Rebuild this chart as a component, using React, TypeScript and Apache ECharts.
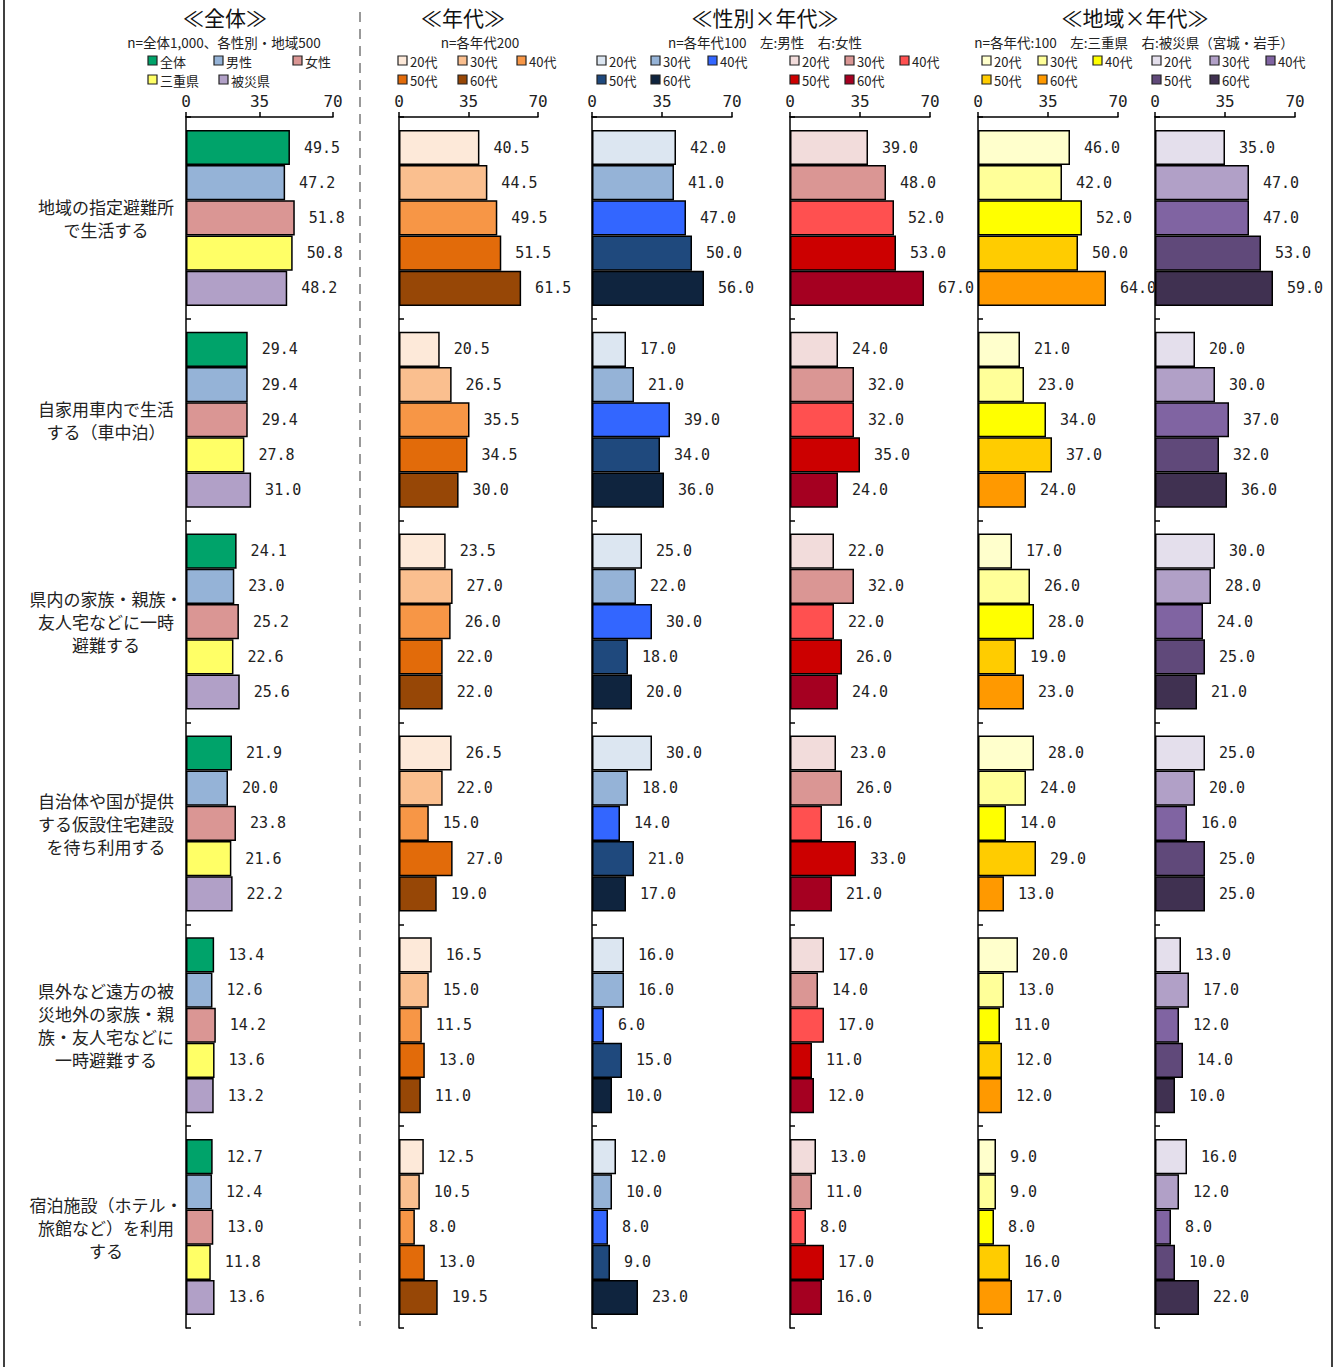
import React, { useEffect, useRef } from "react";
import * as echarts from "echarts";

// Answer options (category axis, top to bottom)
const categories = [
  "地域の指定避難所\nで生活する",
  "自家用車内で生活\nする（車中泊）",
  "県内の家族・親族・\n友人宅などに一時\n避難する",
  "自治体や国が提供\nする仮設住宅建設\nを待ち利用する",
  "県外など遠方の被\n災地外の家族・親\n族・友人宅などに\n一時避難する",
  "宿泊施設（ホテル・\n旅館など）を利用\nする",
];

const xTicks = { min: 0, max: 70, interval: 35 };

// ≪全体≫
const overallNames = ["全体", "男性", "女性", "三重県", "被災県"];
const overallAll = [49.5, 29.4, 24.1, 21.9, 13.4, 12.7];
const overallMale = [47.2, 29.4, 23.0, 20.0, 12.6, 12.4];
const overallFemale = [51.8, 29.4, 25.2, 23.8, 14.2, 13.0];
const overallMie = [50.8, 27.8, 22.6, 21.6, 13.6, 11.8];
const overallDisaster = [48.2, 31.0, 25.6, 22.2, 13.2, 13.6];

const ageNames = ["20代", "30代", "40代", "50代", "60代"];

// ≪年代≫ n=各年代200
const age20 = [40.5, 20.5, 23.5, 26.5, 16.5, 12.5];
const age30 = [44.5, 26.5, 27.0, 22.0, 15.0, 10.5];
const age40 = [49.5, 35.5, 26.0, 15.0, 11.5, 8.0];
const age50 = [51.5, 34.5, 22.0, 27.0, 13.0, 13.0];
const age60 = [61.5, 30.0, 22.0, 19.0, 11.0, 19.5];

// ≪性別×年代≫ 男性
const male20 = [42.0, 17.0, 25.0, 30.0, 16.0, 12.0];
const male30 = [41.0, 21.0, 22.0, 18.0, 16.0, 10.0];
const male40 = [47.0, 39.0, 30.0, 14.0, 6.0, 8.0];
const male50 = [50.0, 34.0, 18.0, 21.0, 15.0, 9.0];
const male60 = [56.0, 36.0, 20.0, 17.0, 10.0, 23.0];

// ≪性別×年代≫ 女性
const female20 = [39.0, 24.0, 22.0, 23.0, 17.0, 13.0];
const female30 = [48.0, 32.0, 32.0, 26.0, 14.0, 11.0];
const female40 = [52.0, 32.0, 22.0, 16.0, 17.0, 8.0];
const female50 = [53.0, 35.0, 26.0, 33.0, 11.0, 17.0];
const female60 = [67.0, 24.0, 24.0, 21.0, 12.0, 16.0];

// ≪地域×年代≫ 三重県
const mie20 = [46.0, 21.0, 17.0, 28.0, 20.0, 9.0];
const mie30 = [42.0, 23.0, 26.0, 24.0, 13.0, 9.0];
const mie40 = [52.0, 34.0, 28.0, 14.0, 11.0, 8.0];
const mie50 = [50.0, 37.0, 19.0, 29.0, 12.0, 16.0];
const mie60 = [64.0, 24.0, 23.0, 13.0, 12.0, 17.0];

// ≪地域×年代≫ 被災県（宮城・岩手）
const hit20 = [35.0, 20.0, 30.0, 25.0, 13.0, 16.0];
const hit30 = [47.0, 30.0, 28.0, 20.0, 17.0, 12.0];
const hit40 = [47.0, 37.0, 24.0, 16.0, 12.0, 8.0];
const hit50 = [53.0, 32.0, 25.0, 25.0, 14.0, 10.0];
const hit60 = [59.0, 36.0, 21.0, 25.0, 10.0, 22.0];

const overallColors = ["#00A36A", "#95B3D7", "#DA9694", "#FFFF66", "#B1A0C7"];
const ageColors = ["#FDE9D9", "#FABF8F", "#F79646", "#E26B0A", "#974706"];
const maleColors = ["#DCE6F1", "#95B3D7", "#3366FF", "#1F497D", "#0F243E"];
const femaleColors = ["#F2DCDB", "#DA9694", "#FF5050", "#CC0000", "#A50021"];
const mieColors = ["#FFFFCC", "#FFFF99", "#FFFF00", "#FFCC00", "#FF9900"];
const hitColors = ["#E4DFEC", "#B1A0C7", "#8064A2", "#60497A", "#403151"];

const JP = '"Noto Sans CJK JP", "Noto Sans", sans-serif';
const MONO = '"DejaVu Sans Mono", "Liberation Mono", monospace';

const GRID_TOP = 117;
const GRID_HEIGHT = 1211;

const SUB_Y = 42;
const ROW1_Y = 61;
const ROW2_Y = 80;

const panels = [
  {
    names: overallNames,
    colors: overallColors,
    values: [overallAll, overallMale, overallFemale, overallMie, overallDisaster],
    left: 186,
    width: 147,
    legend: [[148, ROW1_Y], [214, ROW1_Y], [293, ROW1_Y], [148, ROW2_Y], [219, ROW2_Y]],
  },
  {
    names: ageNames,
    colors: ageColors,
    values: [age20, age30, age40, age50, age60],
    left: 399,
    width: 139,
    legend: [[398, ROW1_Y], [458, ROW1_Y], [517, ROW1_Y], [398, ROW2_Y], [458, ROW2_Y]],
  },
  {
    names: ageNames,
    colors: maleColors,
    values: [male20, male30, male40, male50, male60],
    left: 592,
    width: 140,
    legend: [[597, ROW1_Y], [651, ROW1_Y], [708, ROW1_Y], [597, ROW2_Y], [651, ROW2_Y]],
  },
  {
    names: ageNames,
    colors: femaleColors,
    values: [female20, female30, female40, female50, female60],
    left: 790,
    width: 140,
    legend: [[790, ROW1_Y], [845, ROW1_Y], [900, ROW1_Y], [790, ROW2_Y], [845, ROW2_Y]],
  },
  {
    names: ageNames,
    colors: mieColors,
    values: [mie20, mie30, mie40, mie50, mie60],
    left: 978,
    width: 140,
    legend: [[982, ROW1_Y], [1038, ROW1_Y], [1093, ROW1_Y], [982, ROW2_Y], [1038, ROW2_Y]],
  },
  {
    names: ageNames,
    colors: hitColors,
    values: [hit20, hit30, hit40, hit50, hit60],
    left: 1155,
    width: 140,
    legend: [[1152, ROW1_Y], [1210, ROW1_Y], [1266, ROW1_Y], [1152, ROW2_Y], [1210, ROW2_Y]],
  },
];

const headings = [
  { text: "≪全体≫", x: 225 },
  { text: "≪年代≫", x: 463 },
  { text: "≪性別×年代≫", x: 765 },
  { text: "≪地域×年代≫", x: 1135 },
];

const subHeadings = [
  { text: "n=全体1,000、各性別・地域500", x: 224 },
  { text: "n=各年代200", x: 480 },
  { text: "n=各年代100　左:男性　右:女性", x: 765 },
  { text: "n=各年代:100　左:三重県　右:被災県（宮城・岩手）", x: 1134 },
];

function buildOption() {
  const grid = panels.map((p) => ({
    left: p.left,
    width: p.width,
    top: GRID_TOP,
    height: GRID_HEIGHT,
    containLabel: false,
  }));

  const xAxis = panels.map((_, i) => ({
    gridIndex: i,
    type: "value",
    position: "top",
    min: xTicks.min,
    max: xTicks.max,
    interval: xTicks.interval,
    axisLine: { show: true, lineStyle: { color: "#000", width: 1.5 } },
    axisTick: { show: true, length: 5, lineStyle: { color: "#000", width: 1.5 } },
    axisLabel: { fontSize: 16, margin: 8, color: "#222", fontFamily: MONO },
    splitLine: { show: false },
  }));

  const yAxis = panels.map((_, i) => ({
    gridIndex: i,
    type: "category",
    data: categories,
    inverse: true,
    axisLine: { show: true, onZero: false, lineStyle: { color: "#000", width: 1.5 } },
    axisTick: {
      show: true,
      inside: true,
      length: 5,
      interval: 0,
      alignWithLabel: false,
      lineStyle: { color: "#000", width: 1.5 },
    },
    axisLabel:
      i === 0
        ? {
            show: true,
            interval: 0,
            align: "center",
            margin: 80,
            fontSize: 17,
            lineHeight: 23,
            color: "#222",
            fontFamily: JP,
          }
        : { show: false },
    splitLine: { show: false },
  }));

  const series: any[] = [];
  panels.forEach((p, i) => {
    p.values.forEach((vals, k) => {
      series.push({
        type: "bar",
        name: p.names[k],
        xAxisIndex: i,
        yAxisIndex: i,
        data: vals,
        barGap: "0%",
        barCategoryGap: "12.8%",
        itemStyle: { color: p.colors[k], borderColor: "#000", borderWidth: 1.5 },
        label: {
          show: true,
          position: "right",
          distance: 14,
          formatter: (d: any) => Number(d.value).toFixed(1),
          fontSize: 15,
          fontFamily: MONO,
          color: "#222",
        },
      });
    });
  });

  const graphic: any[] = [];
  // frame lines and the dashed divider after the overall panel
  graphic.push({
    type: "line",
    shape: { x1: 4, y1: 0, x2: 4, y2: 1367 },
    style: { stroke: "#000", lineWidth: 1.5 },
  });
  graphic.push({
    type: "line",
    shape: { x1: 1332, y1: 0, x2: 1332, y2: 1367 },
    style: { stroke: "#000", lineWidth: 1.5 },
  });
  graphic.push({
    type: "line",
    shape: { x1: 360, y1: 12, x2: 360, y2: 1326 },
    style: { stroke: "#999", lineWidth: 2, lineDash: [10, 7] },
  });

  headings.forEach((h) => {
    graphic.push({
      type: "text",
      x: h.x,
      y: 17,
      style: {
        text: h.text,
        fontSize: 21,
        lineHeight: 22,
        fontFamily: JP,
        fill: "#111",
        align: "center",
        verticalAlign: "middle",
      },
    });
  });

  subHeadings.forEach((s) => {
    graphic.push({
      type: "text",
      x: s.x,
      y: SUB_Y,
      style: {
        text: s.text,
        fontSize: 13.5,
        lineHeight: 14,
        fontFamily: JP,
        fill: "#222",
        align: "center",
        verticalAlign: "middle",
      },
    });
  });

  // per-panel legend keys
  panels.forEach((p) => {
    p.legend.forEach(([x, y], k) => {
      graphic.push({
        type: "rect",
        shape: { x: x, y: y - 5, width: 9, height: 9 },
        style: { fill: p.colors[k], stroke: "#222", lineWidth: 1.2 },
      });
      graphic.push({
        type: "text",
        x: x + 12,
        y: y,
        style: {
          text: p.names[k],
          fontSize: 13,
          lineHeight: 14,
          fontFamily: JP,
          fill: "#222",
          align: "left",
          verticalAlign: "middle",
        },
      });
    });
  });

  return {
    animation: false,
    backgroundColor: "#fff",
    grid,
    xAxis,
    yAxis,
    series,
    graphic,
  };
}

export default function App() {
  const ref = useRef<HTMLDivElement>(null);

  useEffect(() => {
    if (!ref.current) return;
    const chart = echarts.init(ref.current, undefined, { renderer: "svg" });
    chart.setOption(buildOption() as any);
    return () => chart.dispose();
  }, []);

  return (
    <div
      ref={ref}
      style={{ position: "absolute", left: 0, top: 0, width: 1338, height: 1367 }}
    />
  );
}
